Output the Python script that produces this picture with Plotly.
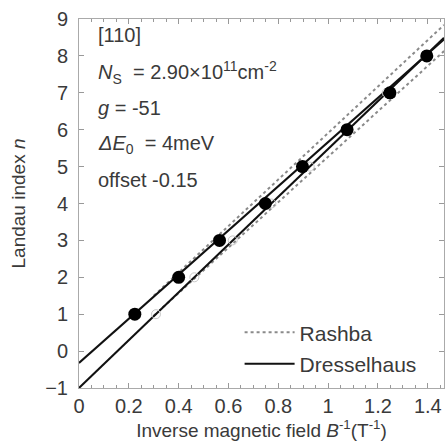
import plotly.graph_objects as go

# Data
landau_n = [1, 2, 3, 4, 5, 6, 7, 8]
filled_x = [0.224, 0.400, 0.564, 0.748, 0.897, 1.076, 1.248, 1.396]
open_x = [0.309, 0.463, 0.617, 0.772, 0.926, 1.080, 1.235, 1.389]

# Dresselhaus fit lines (endpoints)
dressel_up_x = [0.0, 1.465]
dressel_up_y = [-0.32, 8.45]
dressel_lo_x = [0.0, 1.465]
dressel_lo_y = [-1.0, 8.49]

# Rashba fit lines (endpoints)
rashba_up_x = [0.30, 1.465]
rashba_up_y = [1.50, 8.84]
rashba_lo_x = [0.30, 1.465]
rashba_lo_y = [0.96, 8.13]

FONT = "Liberation Sans, Arial, sans-serif"
TXT = "#3a3a3a"

fig = go.Figure()

fig.add_trace(go.Scatter(x=rashba_up_x, y=rashba_up_y, mode="lines",
                         line=dict(color="#8a8a8a", width=2, dash="dot"),
                         name="Rashba", showlegend=True, legend="legend"))
fig.add_trace(go.Scatter(x=rashba_lo_x, y=rashba_lo_y, mode="lines",
                         line=dict(color="#8a8a8a", width=2, dash="dot"),
                         showlegend=False))
fig.add_trace(go.Scatter(x=dressel_up_x, y=dressel_up_y, mode="lines",
                         line=dict(color="#111111", width=2),
                         name="Dresselhaus", showlegend=True, legend="legend2"))
fig.add_trace(go.Scatter(x=dressel_lo_x, y=dressel_lo_y, mode="lines",
                         line=dict(color="#111111", width=2),
                         showlegend=False))
fig.add_trace(go.Scatter(x=open_x, y=landau_n, mode="markers",
                         marker=dict(size=9, color="rgba(0,0,0,0)",
                                     line=dict(color="#c8c8c8", width=1)),
                         showlegend=False))
fig.add_trace(go.Scatter(x=filled_x, y=landau_n, mode="markers",
                         marker=dict(size=13, color="#000000"),
                         showlegend=False))

texts = [
    ("[110]", 8.57),
    ("<i>N</i><sub>S</sub>  = 2.90×10<sup>11</sup>cm<sup>-2</sup>", 7.56),
    ("<i>g</i> = -51", 6.59),
    ("<i>ΔE</i><sub>0</sub>  = 4meV", 5.59),
    ("offset -0.15", 4.64),
]
for t, yv in texts:
    fig.add_annotation(x=0.068, y=yv, xref="x", yref="y", text=t, showarrow=False,
                       xanchor="left", yanchor="middle",
                       font=dict(family=FONT, size=20, color=TXT))

leg_common = dict(xanchor="left", yanchor="middle", bgcolor="rgba(0,0,0,0)",
                  font=dict(family=FONT, size=21, color=TXT), itemwidth=50)

fig.update_layout(
    width=447, height=448,
    margin=dict(l=79, r=3, t=19, b=60),
    paper_bgcolor="white", plot_bgcolor="white",
    font=dict(family=FONT, size=19, color=TXT),
    legend=dict(x=0.44, y=0.15, **leg_common),
    legend2=dict(x=0.44, y=0.065, **leg_common),
    xaxis=dict(range=[0, 1.465], dtick=0.2, tick0=0, ticks="inside", ticklen=5,
               tickcolor="#999", showline=True, linecolor="#aaa", linewidth=1,
               mirror="ticks", showgrid=False, zeroline=False,
               minor=dict(dtick=0.05, ticks="inside", ticklen=3, tickcolor="#999"),
               title=dict(text="Inverse magnetic field <i>B</i><sup>-1</sup>(T<sup>-1</sup>)",
                          font=dict(size=19, color=TXT), standoff=0),
               tickfont=dict(size=20, color=TXT)),
    yaxis=dict(range=[-1, 9], dtick=1, ticks="inside", ticklen=5, tickcolor="#999",
               showline=True, linecolor="#aaa", linewidth=1, mirror="ticks",
               showgrid=False, zeroline=False, ticklabelstandoff=6,
               title=dict(text="Landau index <i>n</i>", font=dict(size=19, color=TXT),
                          standoff=14),
               tickfont=dict(size=20, color=TXT)),
)

fig.write_html("out.html", config={"displayModeBar": False},
               post_script="document.body.style.margin='0';document.body.style.overflow='hidden';")
